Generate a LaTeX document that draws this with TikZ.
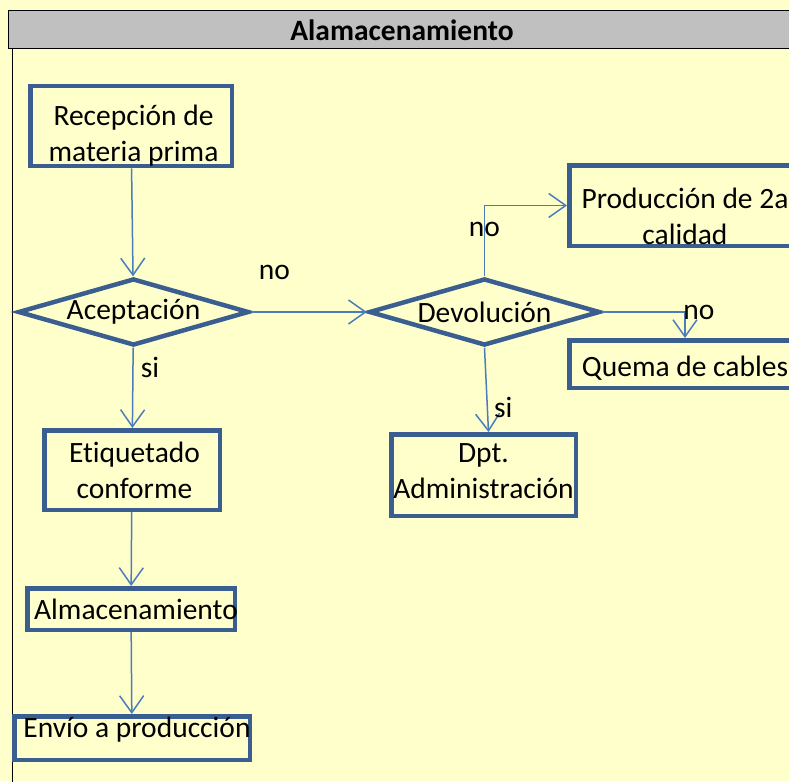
\documentclass[tikz,border=0pt]{standalone}
\usepackage{fontspec}
\setmainfont{Carlito}[Ligatures=NoCommon]
\usetikzlibrary{arrows.meta,shapes.geometric}
\definecolor{fondo}{HTML}{FFFFCC}
\definecolor{cabecera}{HTML}{C0C0C0}
\definecolor{borde}{HTML}{3B5E91}
\definecolor{linea}{HTML}{4A7EBB}

\begin{document}
\begin{tikzpicture}[x=1pt, y=-1pt,
                    caja/.style={rectangle, draw=borde, line width=4.5pt, align=center, inner sep=0pt,
                                 font=\fontsize{29.5}{36}\selectfont},
                    rombo/.style={diamond, draw=borde, line width=4.5pt, inner sep=0pt, aspect=3.45,
                                  minimum width=231pt, minimum height=67pt, font=\fontsize{29.5}{36}\selectfont},
                    flecha/.style={draw=linea, line width=1.5pt, -{Straight Barb[length=17pt,width=24pt]}},
                    etq/.style={inner sep=0pt, font=\fontsize{29.5}{36}\selectfont}]
                    \useasboundingbox (0,0) rectangle (789,781);
                    \clip (0,0) rectangle (789,781);
                    \fill[fondo] (0,0) rectangle (789,781);
                    \draw[fill=cabecera, line width=0.8pt] (8,10) rectangle (800,48);
                    \node[font=\fontsize{29.5}{34}\selectfont\bfseries] (titulo) at (402,30) {Alamacenamiento};
                    \draw[line width=0.8pt] (12,48) -- (12,790);

                    \node[caja, minimum width=201.5pt, minimum height=79.5pt] (rec) at (131,126) {\rule{0pt}{39.5pt}\hspace{5pt}Recepción de\hspace{-5pt}\\\hspace{5pt}materia prima\hspace{-5pt}};
                    \node[rombo] (acep) at (133.5,312) {Aceptación};
                    \node[caja, minimum width=175.5pt, minimum height=79.5pt] (etiq) at (132,470) {\hspace{5pt}Etiquetado\hspace{-5pt}\\\hspace{5pt}conforme\hspace{-5pt}};
                    \node[caja, minimum width=207.5pt, minimum height=41.5pt] (alm) at (131,609) {\hspace{5pt}Almacenamiento\hspace{-5pt}};
                    \node[caja, minimum width=235.5pt, minimum height=43.5pt] (envio) at (132,738) {\rule[-22pt]{0pt}{0pt}\hspace{5pt}Envío a producción\hspace{-5pt}};
                    \node[rombo] (dev) at (484.5,312) {Devolución};
                    \node[caja, minimum width=231.5pt, minimum height=80.5pt] (prod) at (685,205.5) {\rule{0pt}{41.5pt}Producción de 2a\\calidad};
                    \node[caja, minimum width=231.5pt, minimum height=47.5pt] (quema) at (685,364) {\rule{0pt}{29pt}Quema de cables};
                    \node[caja, minimum width=184.5pt, minimum height=81.5pt] (dpt) at (483.5,475) {Dpt.\\Administración\rule[-8pt]{0pt}{0pt}};

                    \draw[flecha] (rec) -- (acep);
                    \draw[flecha] (acep) -- (dev) node[etq, pos=0.2, yshift=40pt] (no1) {no};
                    \draw[flecha] (acep) -- (etiq) node[etq, pos=0.25, xshift=17pt] (si1) {si};
                    \draw[flecha] (etiq) -- (alm);
                    \draw[flecha] (alm) -- (envio);
                    \draw[flecha] (dev.north) |- (prod.west) node[etq, pos=0.33] (no2) {no};
                    \draw[flecha] (dev.east) -| (quema.north) node[etq, pos=0.5, xshift=14pt] (no3) {no};
                    \draw[flecha] (dev.south) -- ([xshift=5pt]dpt.north) node[etq, pos=0.71, xshift=16pt] (si2) {si};
                \end{tikzpicture}
\end{document}
